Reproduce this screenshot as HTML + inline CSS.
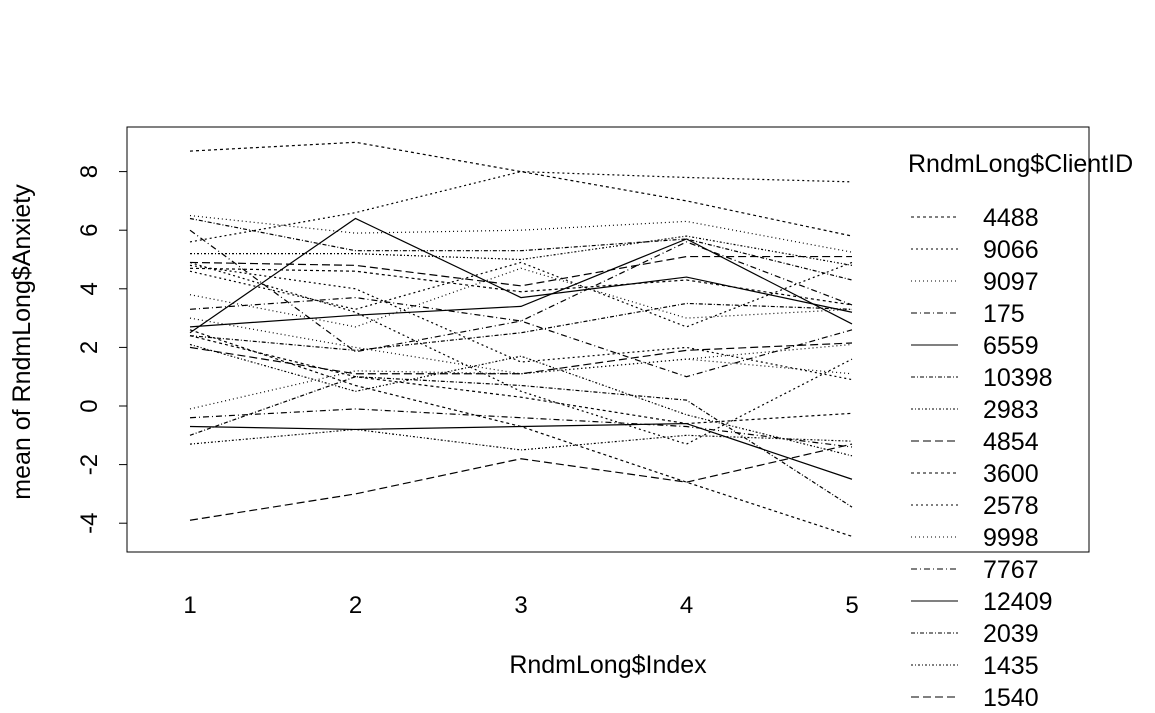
<!DOCTYPE html>
<html><head><meta charset="utf-8">
<style>
html,body{margin:0;padding:0;background:#fff;}
svg{display:block;font-family:"Liberation Sans",Arial,sans-serif;}
</style></head>
<body>
<svg id="chart" width="1155" height="713" viewBox="0 0 1155 713">
<rect x="127" y="127" width="962" height="425" fill="none" stroke="#000" stroke-width="1"/>
<g id="yaxis"></g>
<g id="xaxis"></g>
<g id="lines"></g>
<g id="legend"></g>
<text x="30" y="342" font-size="25" text-anchor="middle" transform="rotate(-90 30 342)">mean of  RndmLong$Anxiety</text>
<text x="608" y="673" font-size="25" text-anchor="middle">RndmLong$Index</text>
</svg>
<script>
const xCategories = [1, 2, 3, 4, 5];
const yTicks = [-4, -2, 0, 2, 4, 6, 8];
const seriesValues = [
  [8.7, 9.0, 8.0, 7.0, 5.8],
  [5.6, 6.6, 8.0, 7.8, 7.65],
  [6.5, 5.9, 6.0, 6.3, 5.25],
  [6.0, 1.85, 2.9, 1.0, 2.6],
  [2.5, 6.4, 3.7, 4.4, 3.2],
  [6.4, 5.3, 5.3, 5.7, 4.3],
  [5.2, 5.2, 5.0, 5.8, 4.8],
  [4.9, 4.8, 4.1, 5.1, 5.1],
  [4.7, 4.6, 3.9, 4.3, 3.45],
  [4.6, 3.3, 4.9, 2.7, 4.9],
  [3.8, 2.7, 4.7, 3.0, 3.3],
  [3.3, 3.7, 2.9, 5.6, 3.45],
  [2.7, 3.1, 3.4, 5.7, 2.8],
  [2.4, 1.9, 2.5, 3.5, 3.3],
  [2.1, 0.5, 1.7, -0.3, -1.7],
  [2.0, 1.1, 1.1, 1.9, 2.15],
  [2.4, 1.0, 0.3, -0.6, -0.25],
  [4.8, 4.0, 1.5, 2.0, 0.9],
  [-0.1, 1.2, 1.1, 1.6, 2.1],
  [-0.4, -0.1, -0.4, -0.7, -1.4],
  [-0.7, -0.8, -0.7, -0.6, -2.5],
  [-1.0, 1.0, 0.7, 0.2, -3.45],
  [-1.3, -0.8, -1.5, -1.0, -1.2],
  [-3.9, -3.0, -1.8, -2.6, -1.3],
  [2.6, 0.7, -0.7, -2.6, -4.45],
  [4.9, 3.2, 0.5, -1.3, 1.6],
  [3.0, 2.0, 1.1, 1.6, 1.1]
];
const legendLabels = ["4488","9066","9097","175","6559","10398","2983","4854","3600","2578","9998","7767","12409","2039","1435","1540"];

const NS = "http://www.w3.org/2000/svg";
function xScale(v){ return 190 + (v - 1) * 165.5; }
function yScale(v){ return 406 - v * 29.3; }
const dashes = ["3,3","2,3","1,3","6,3,1,3","", "4,2,1,2","2,2,1,2","8,4"];

const yax = document.getElementById("yaxis");
const ln = document.createElementNS(NS, "line");
ln.setAttribute("x1", 127); ln.setAttribute("x2", 127);
ln.setAttribute("y1", yScale(yTicks[yTicks.length-1])); ln.setAttribute("y2", yScale(yTicks[0]));
ln.setAttribute("stroke", "#000");


yax.appendChild(ln);
yTicks.forEach(t => {
  const y = yScale(t);
  const tk = document.createElementNS(NS, "line");
  tk.setAttribute("x1", 119); tk.setAttribute("x2", 127);
  tk.setAttribute("y1", y); tk.setAttribute("y2", y);
  tk.setAttribute("stroke", "#000");
  
  
  yax.appendChild(tk);
  const tx = document.createElementNS(NS, "text");
  tx.setAttribute("x", 97); tx.setAttribute("y", y);
  tx.setAttribute("font-size", "24");
  tx.setAttribute("text-anchor", "middle");
  tx.setAttribute("transform", `rotate(-90 97 ${y})`);
  tx.textContent = t;
  
  
  yax.appendChild(tx);
});

const xax = document.getElementById("xaxis");
xCategories.forEach(c => {
  const tx = document.createElementNS(NS, "text");
  tx.setAttribute("x", xScale(c)); tx.setAttribute("y", 613);
  tx.setAttribute("font-size", "24");
  tx.setAttribute("text-anchor", "middle");
  tx.textContent = c;
  
  
  xax.appendChild(tx);
});

const lg = document.getElementById("lines");
seriesValues.forEach((vals, i) => {
  const pl = document.createElementNS(NS, "polyline");
  pl.setAttribute("points", vals.map((v, j) => xScale(xCategories[j]) + "," + yScale(v)).join(" "));
  pl.setAttribute("fill", "none");
  pl.setAttribute("stroke", "#000");
  pl.setAttribute("stroke-width", "1.2");
  const d = dashes[i % dashes.length];
  if (d) pl.setAttribute("stroke-dasharray", d);
  
  
  lg.appendChild(pl);
});

const leg = document.getElementById("legend");
const title = document.createElementNS(NS, "text");
title.setAttribute("x", 908); title.setAttribute("y", 172);
title.setAttribute("font-size", "25");
title.textContent = "RndmLong$ClientID";


leg.appendChild(title);
legendLabels.forEach((lab, i) => {
  const y = 217 + i * 32;
  const l = document.createElementNS(NS, "line");
  l.setAttribute("x1", 911); l.setAttribute("x2", 958);
  l.setAttribute("y1", y); l.setAttribute("y2", y);
  l.setAttribute("stroke", "#000");
  const d = dashes[i % dashes.length];
  if (d) l.setAttribute("stroke-dasharray", d);
  
  
  leg.appendChild(l);
  const t = document.createElementNS(NS, "text");
  t.setAttribute("x", 983); t.setAttribute("y", y + 9);
  t.setAttribute("font-size", "25");
  t.textContent = lab;
  
  
  leg.appendChild(t);
});
</script>
</body></html>
